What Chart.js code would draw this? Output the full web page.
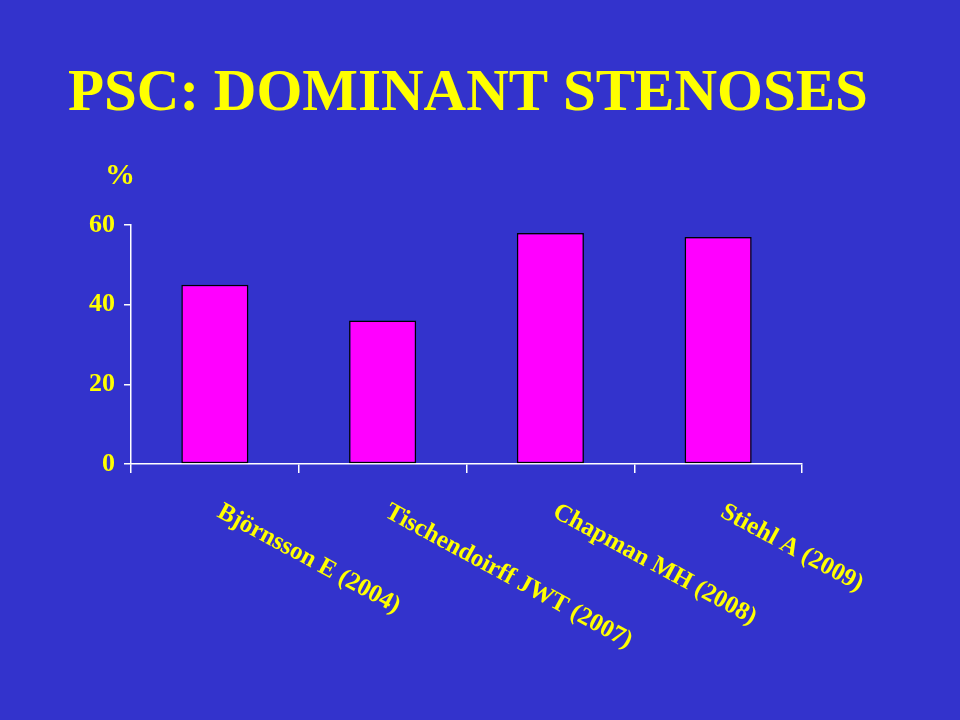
<!DOCTYPE html>
<html>
<head>
<meta charset="utf-8">
<title>PSC: Dominant Stenoses</title>
<script src="https://cdn.jsdelivr.net/npm/chart.js@4"></script>
<style>
    html, body { margin: 0; padding: 0; background: #3333CC; }
    #wrap { width: 960px; height: 720px; position: relative; }
</style>
</head>
<body>
<div id="wrap"><canvas id="stenosisChart"></canvas></div>
<script>
// =============================================
// DATA
// =============================================
const studies = ["Björnsson E (2004)", "Tischendoirff JWT (2007)", "Chapman MH (2008)", "Stiehl A (2009)"];
const stenosisPct = [45, 36, 58, 57];
const yTicks = [0, 20, 40, 60];

const YELLOW = "#FFFF00";
const SERIF = "'Liberation Serif', 'Times New Roman', serif";

// =============================================
// CUSTOM TEXT (title, % unit, slanted study names)
// =============================================
const slideText = {
    id: "slideText",
    afterDraw(chart) {
        const ctx = chart.ctx;
        const xs = chart.scales.x;
        const area = chart.chartArea;

        ctx.save();
        ctx.fillStyle = YELLOW;
        ctx.textAlign = "left";
        ctx.textBaseline = "alphabetic";

        // slide title - no maxWidth, so it keeps its natural width
        ctx.font = `bold 59px ${SERIF}`;
        ctx.fillText("PSC: DOMINANT STENOSES", 68, 110);

        ctx.font = `bold 30px ${SERIF}`;
        ctx.fillText("%", area.left - 26, area.top - 41);

        ctx.font = `bold 25px ${SERIF}`;
        studies.forEach((name, i) => {
            const x = xs.getPixelForValue(i);
            ctx.save();
            ctx.translate(x + 1, xs.top + 52);
            ctx.rotate(28.5 * Math.PI / 180);
            ctx.fillText(name, 0, 0);
            ctx.restore();
        });
        ctx.restore();
    }
};

// =============================================
// CHART
// =============================================
new Chart(document.getElementById("stenosisChart"), {
    type: "bar",
    data: {
        labels: studies,
        datasets: [{
            data: stenosisPct,
            backgroundColor: "#FF00FF",
            borderColor: "#000000",
            borderWidth: 1.5,
            borderSkipped: false,
            categoryPercentage: 1,
            barPercentage: 0.4
        }]
    },
    options: {
        responsive: true,
        maintainAspectRatio: false,
        animation: false,
        layout: { padding: { left: 68, right: 158, top: 225, bottom: 0 } },
        plugins: {
            legend: { display: false },
            tooltip: { enabled: false },
            title: { display: false }
        },
        scales: {
            x: {
                afterFit: (scale) => { scale.height = 256; },
                border: { color: "#FFFFFF", width: 1.5 },
                grid: {
                    offset: true,
                    drawOnChartArea: false,
                    color: "#FFFFFF",
                    lineWidth: 1.5,
                    tickLength: 9
                },
                ticks: { display: false }
            },
            y: {
                min: 0,
                max: 60,
                afterFit: (scale) => { scale.width = 63; },
                afterBuildTicks: (scale) => { scale.ticks = yTicks.map(v => ({ value: v })); },
                border: { color: "#FFFFFF", width: 1.5 },
                grid: {
                    drawOnChartArea: false,
                    color: "#FFFFFF",
                    lineWidth: 1.5,
                    tickLength: 7
                },
                ticks: {
                    color: YELLOW,
                    padding: 9,
                    font: { family: SERIF, size: 26, weight: "bold" }
                }
            }
        }
    },
    plugins: [slideText]
});
</script>
</body>
</html>
